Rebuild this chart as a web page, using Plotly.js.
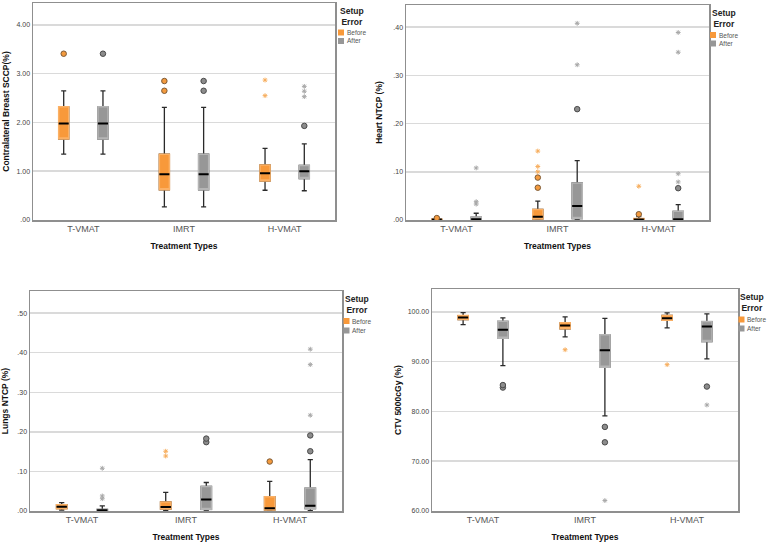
<!DOCTYPE html>
<html>
<head>
<meta charset="utf-8">
<script src="https://cdn.plot.ly/plotly-3.0.1.min.js"></script>
<style>html,body{margin:0;padding:0;background:#fff;}#chart{width:767px;height:546px;}</style>
</head>
<body>
<div id="chart"></div>
<script>
// ---------- DATA ----------
const categories = ['T-VMAT', 'IMRT', 'H-VMAT'];
const groups = ['Before', 'After'];

// stats per category: [lower whisker, Q1, median, Q3, upper whisker]
const sccpBefore = [[1.35, 1.66, 1.98, 2.32, 2.65], [0.27, 0.62, 0.94, 1.35, 2.31], [0.61, 0.80, 0.96, 1.13, 1.47]];
const sccpAfter  = [[1.35, 1.66, 1.98, 2.32, 2.65], [0.27, 0.62, 0.94, 1.35, 2.31], [0.60, 0.85, 1.00, 1.12, 1.56]];
const sccpBeforeCircles = [[3.41], [2.65, 2.85], []];
const sccpBeforeStars   = [[], [], [2.55, 2.87]];
const sccpAfterCircles  = [[3.41], [2.65, 2.85], [1.93]];
const sccpAfterStars    = [[], [], [2.53, 2.64, 2.74]];

const heartBefore = [[0, 0.0003, 0.0008, 0.0015, 0.002], [0, 0.002, 0.007, 0.022, 0.039], [0, 0.0005, 0.001, 0.003, 0.007]];
const heartAfter  = [[0, 0.0005, 0.0015, 0.006, 0.014], [0, 0.003, 0.029, 0.077, 0.123], [0, 0.0005, 0.0015, 0.018, 0.032]];
const heartBeforeCircles = [[0.004], [0.067, 0.088], [0.012]];
const heartBeforeStars   = [[], [0.100, 0.111, 0.143], [0.070]];
const heartAfterCircles  = [[], [0.230], [0.066]];
const heartAfterStars    = [[0.033, 0.038, 0.108], [0.322, 0.408], [0.079, 0.096, 0.348, 0.389]];

const lungsBefore = [[0.002, 0.006, 0.011, 0.016, 0.021], [0.001, 0.005, 0.010, 0.023, 0.047], [0.001, 0.0025, 0.007, 0.036, 0.075]];
const lungsAfter  = [[0, 0, 0.0017, 0.004, 0.013], [0.001, 0.004, 0.029, 0.062, 0.072], [0.001, 0.006, 0.013, 0.058, 0.130]];
const lungsBeforeCircles = [[], [], [0.125]];
const lungsBeforeStars   = [[], [0.139, 0.151], []];
const lungsAfterCircles  = [[], [0.174, 0.183], [0.151, 0.191]];
const lungsAfterStars    = [[0.031, 0.038, 0.108], [], [0.242, 0.370, 0.409]];

const ctvBefore = [[97.45, 98.46, 98.86, 99.26, 99.87], [95.0, 96.6, 97.25, 97.8, 99.0], [96.8, 98.3, 98.7, 99.3, 99.8]];
const ctvAfter  = [[89.2, 94.7, 96.4, 98.1, 98.8], [79.1, 88.9, 92.3, 95.4, 98.7], [90.55, 94.04, 97.05, 98.06, 99.6]];
const ctvBeforeCircles = [[], [], []];
const ctvBeforeStars   = [[], [92.4], [89.4]];
const ctvAfterCircles  = [[84.8, 85.3], [73.8, 76.9], [85.0]];
const ctvAfterStars    = [[], [62.1], [81.3]];

const sccpTicks  = [0, 1, 2, 3, 4];
const sccpTickText = ['.00', '1.00', '2.00', '3.00', '4.00'];
const heartTicks = [0, 0.1, 0.2, 0.3, 0.4];
const heartTickText = ['.00', '.10', '.20', '.30', '.40'];
const lungsTicks = [0, 0.1, 0.2, 0.3, 0.4, 0.5];
const lungsTickText = ['.00', '.10', '.20', '.30', '.40', '.50'];
const ctvTicks = [60, 70, 80, 90, 100];
const ctvTickText = ['60.00', '70.00', '80.00', '90.00', '100.00'];

const yTitles = ['Contralateral Breast SCCP(%)', 'Heart NTCP (%)', 'Lungs NTCP (%)', 'CTV 5000cGy (%)'];
const xTitle = 'Treatment Types';
const legendTitle = 'Setup<br>Error';

// ---------- STYLE / LAYOUT ----------
const W = 767, H = 546;
const PX = v => v / W;
const PY = v => 1 - v / H;
const FONT = 'Liberation Sans, Arial, sans-serif';

const style = {
  Before: {fill: '#F8993A', edge: '#FBB166', circ: '#F39A3E', circLine: '#7d5a36', star: '#F7AE5E', off: -0.195},
  After:  {fill: '#979797', edge: '#B5B5B5', circ: '#8c8c8c', circLine: '#4a4a4a', star: '#a8a8a8', off: 0.195}
};

const panels = [
  {stats: {Before: sccpBefore, After: sccpAfter}, circles: {Before: sccpBeforeCircles, After: sccpAfterCircles},
   stars: {Before: sccpBeforeStars, After: sccpAfterStars}, ticks: sccpTicks, tickText: sccpTickText, range: [0, 4.45],
   box: {x0: 33, x1: 335, y0: 3, y1: 220}, ystand: 5, leg: {x: 338, title: 16, before: 32.5, after: 41}},
  {stats: {Before: heartBefore, After: heartAfter}, circles: {Before: heartBeforeCircles, After: heartAfterCircles},
   stars: {Before: heartBeforeStars, After: heartAfterStars}, ticks: heartTicks, tickText: heartTickText, range: [0, 0.446],
   box: {x0: 406, x1: 709, y0: 5, y1: 220}, ystand: 9, leg: {x: 710, title: 18.3, before: 35, after: 43.5}},
  {stats: {Before: lungsBefore, After: lungsAfter}, circles: {Before: lungsBeforeCircles, After: lungsAfterCircles},
   stars: {Before: lungsBeforeStars, After: lungsAfterStars}, ticks: lungsTicks, tickText: lungsTickText, range: [0, 0.556],
   box: {x0: 30, x1: 342, y0: 291, y1: 511}, ystand: 7, leg: {x: 343.5, title: 304.3, before: 321, after: 330.5}},
  {stats: {Before: ctvBefore, After: ctvAfter}, circles: {Before: ctvBeforeCircles, After: ctvAfterCircles},
   stars: {Before: ctvBeforeStars, After: ctvAfterStars}, ticks: ctvTicks, tickText: ctvTickText, range: [60, 104.6],
   box: {x0: 432, x1: 738, y0: 289, y1: 511}, ystand: 4, leg: {x: 738.5, title: 302.6, before: 319.5, after: 328.5}}
];

const traces = [];
const layout = {
  width: W, height: H, margin: {l: 0, r: 0, t: 0, b: 0},
  paper_bgcolor: '#fff', plot_bgcolor: '#fff', showlegend: false,
  font: {family: FONT, color: '#444'},
  annotations: [], shapes: []
};

panels.forEach((p, i) => {
  const n = i === 0 ? '' : String(i + 1);
  const xa = 'x' + n, ya = 'y' + n;
  layout['xaxis' + n] = {
    domain: [PX(p.box.x0), PX(p.box.x1)], anchor: ya, range: [-0.5, 2.5],
    tickvals: categories.map((c, j) => j), ticktext: categories, showgrid: false, zeroline: false,
    showline: true, mirror: true, linecolor: '#8f8f8f', linewidth: 1.5, ticks: '',
    tickfont: {size: 9, color: '#555', family: FONT}, automargin: false, fixedrange: true,
    title: {text: xTitle, font: {size: 8.5, color: '#111', family: FONT, weight: 'bold'}, standoff: 10}
  };
  layout['yaxis' + n] = {
    domain: [PY(p.box.y1), PY(p.box.y0)], anchor: xa, range: p.range,
    tickvals: p.ticks, ticktext: p.tickText, showgrid: true, gridcolor: '#dadada', gridwidth: 1.5,
    zeroline: false, showline: true, mirror: true, linecolor: '#8f8f8f', linewidth: 1.5, ticks: '',
    tickfont: {size: 7, color: '#444', family: FONT}, automargin: false, fixedrange: true,
    title: {text: yTitles[i], font: {size: 8.5, color: '#111', family: FONT, weight: 'bold'}, standoff: p.ystand}
  };

  groups.forEach(g => {
    const s = style[g];
    const st = p.stats[g];
    const xs = categories.map((c, j) => j + s.off);
    const col = k => st.map(r => r[k]);
    // whiskers
    traces.push({type: 'box', xaxis: xa, yaxis: ya, x: xs, lowerfence: col(0), q1: col(1), median: col(2), q3: col(3), upperfence: col(4),
      width: 0.1, whiskerwidth: 0.5, line: {color: '#2a2a2a', width: 1.3}, fillcolor: 'rgba(0,0,0,0)', boxpoints: false, hoverinfo: 'skip', name: g});
    // box body
    traces.push({type: 'box', xaxis: xa, yaxis: ya, x: xs, lowerfence: col(1), q1: col(1), median: col(1), q3: col(3), upperfence: col(3),
      width: 0.1, whiskerwidth: 0, line: {color: s.edge, width: 1.5}, fillcolor: s.fill, boxpoints: false, hoverinfo: 'skip', name: g});
    // median line
    traces.push({type: 'box', xaxis: xa, yaxis: ya, x: xs, lowerfence: col(2), q1: col(2), median: col(2), q3: col(2), upperfence: col(2),
      width: 0.1, whiskerwidth: 0, line: {color: '#000', width: 2}, fillcolor: '#000', boxpoints: false, hoverinfo: 'skip', name: g});
    // outliers
    const cx = [], cy = [], sx = [], sy = [];
    p.circles[g].forEach((arr, j) => arr.forEach(v => { cx.push(j + s.off); cy.push(v); }));
    p.stars[g].forEach((arr, j) => arr.forEach(v => { sx.push(j + s.off); sy.push(v); }));
    traces.push({type: 'scatter', mode: 'markers', xaxis: xa, yaxis: ya, x: cx, y: cy, hoverinfo: 'skip',
      marker: {symbol: 'circle', size: 5.5, color: s.circ, line: {color: s.circLine, width: 1}}});
    traces.push({type: 'scatter', mode: 'markers', xaxis: xa, yaxis: ya, x: sx, y: sy, hoverinfo: 'skip',
      marker: {symbol: 'asterisk-open', size: 4, color: s.star, line: {color: s.star, width: 1}}});
  });

  // legend (Setup Error)
  const L = p.leg;
  layout.annotations.push({xref: 'paper', yref: 'paper', x: PX(L.x + 13.5), y: PY(L.title), text: legendTitle, showarrow: false,
    xanchor: 'center', yanchor: 'middle', align: 'center', borderpad: 0,
    font: {size: 8.5, color: '#222', family: FONT, weight: 'bold'}});
  groups.forEach(g => {
    const yc = g === 'Before' ? L.before : L.after;
    layout.shapes.push({type: 'rect', xref: 'paper', yref: 'paper', x0: PX(L.x), x1: PX(L.x + 6), y0: PY(yc + 3), y1: PY(yc - 3),
      fillcolor: style[g].fill, line: {width: 0}});
    layout.annotations.push({xref: 'paper', yref: 'paper', x: PX(L.x + 7.5), y: PY(yc), text: g, showarrow: false,
      xanchor: 'left', yanchor: 'middle', borderpad: 0, font: {size: 6.5, color: '#555', family: FONT}});
  });
});

Plotly.newPlot('chart', traces, layout, {displayModeBar: false, staticPlot: true});
</script>
</body>
</html>
